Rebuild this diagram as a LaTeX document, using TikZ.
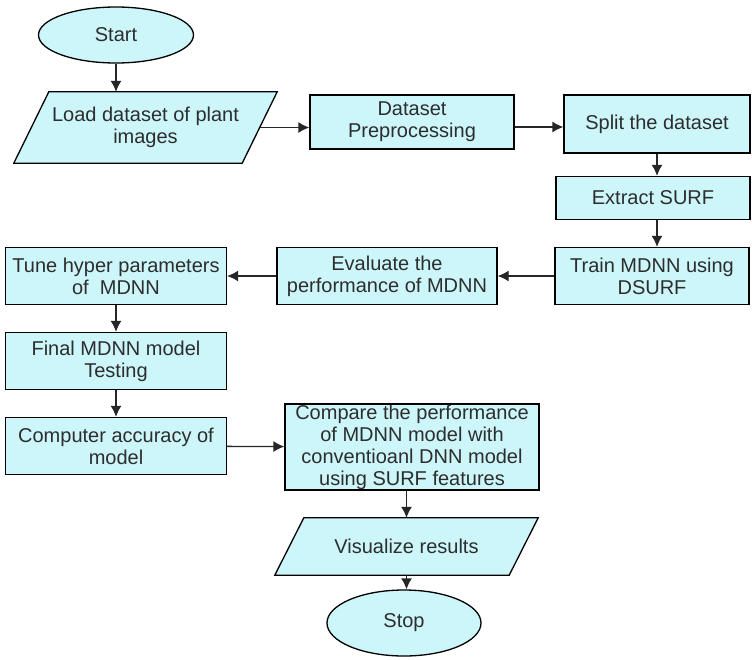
\documentclass[tikz,border=0pt]{standalone}
\usepackage{fontspec}
\setmainfont{Liberation Sans}
\usepackage{xcolor}
\usetikzlibrary{arrows.meta,positioning,shapes.geometric,backgrounds}

\definecolor{boxfill}{RGB}{204,246,250}
\definecolor{txtgray}{RGB}{45,45,45}

\begin{document}
\begin{tikzpicture}[
  x=1pt, y=-1pt,
  every node/.style={font=\fontsize{20}{22}\selectfont, text=txtgray, inner sep=0pt},
  box/.style={draw, fill=boxfill, line width=1.3pt, align=center},
  terminal/.style={draw, ellipse, fill=boxfill, line width=1.3pt, align=center},
  io/.style={align=center, minimum width=263pt},
  iopath/.style={draw, fill=boxfill, line width=1.3pt, line join=miter},
  arrow/.style={-{Latex[length=11pt,width=11pt]}, line width=1.3pt, black!85}
]
\useasboundingbox (0,0) rectangle (752,659);
\node[terminal, minimum width=155pt, minimum height=56pt] (start) at (116,35) {Start};
\node[io, minimum height=71pt] (load) at (145.5,127.5) {Load dataset of plant\\images};
\node[box, minimum width=204pt, minimum height=54pt] (prep) at (412,122) {Dataset\\Preprocessing};
\node[box, minimum width=186pt, minimum height=58pt] (split) at (657,124) {Split the dataset};
\node[box, minimum width=194pt, minimum height=43pt] (surf) at (653,198) {Extract SURF};
\node[box, minimum width=194pt, minimum height=57pt] (train) at (652,276) {Train MDNN using\\DSURF};
\node[box, minimum width=220pt, minimum height=57pt] (eval) at (387,276) {Evaluate the\\performance of MDNN};
\node[box, minimum width=221pt, minimum height=57pt] (tune) at (116,276) {Tune hyper parameters\\of\ \ MDNN};
\node[box, minimum width=221pt, minimum height=57pt] (final) at (116,361) {Final MDNN model\\Testing};
\node[box, minimum width=221pt, minimum height=57pt] (acc) at (116,446) {Computer accuracy of\\model};
\node[box, minimum width=254pt, minimum height=86pt] (cmp) at (412,447) {Compare the performance\\of MDNN model with\\conventioanl DNN model\\using SURF features};
\node[io, minimum height=57pt] (vis) at (406.5,546.5) {Visualize results};
\node[terminal, minimum width=154pt, minimum height=66pt] (stop) at (404,623) {Stop};
% parallelograms behind the io texts
\begin{scope}[on background layer]
  \foreach \n/\s in {load/35,vis/29}
    \path[iopath] ([xshift=\s pt]\n.north west) -- (\n.north east)
      -- ([xshift=-\s pt]\n.south east) -- (\n.south west) -- cycle;
\end{scope}
\draw[arrow] (start.south) -- (start.south |- load.north);
\draw[arrow] ([xshift=-17.5pt]load.east) -- (load.east -| prep.west);
\draw[arrow] (prep.east) ++(0,5) coordinate (p1) (p1) -- (p1 -| split.west);
\draw[arrow] (split.south) -- (split.south |- surf.north);
\draw[arrow] (split.south |- surf.south) -- (split.south |- train.north);
\draw[arrow] (train) -- (eval);
\draw[arrow] (eval) -- (tune);
\draw[arrow] (tune) -- (final);
\draw[arrow] (final) -- (acc);
\draw[arrow] (acc) -- (cmp);
\draw[arrow] (vis.north |- cmp.south) -- (vis.north);
\draw[arrow] (vis.south) -- (vis.south |- stop.north);
\end{tikzpicture}
\end{document}
